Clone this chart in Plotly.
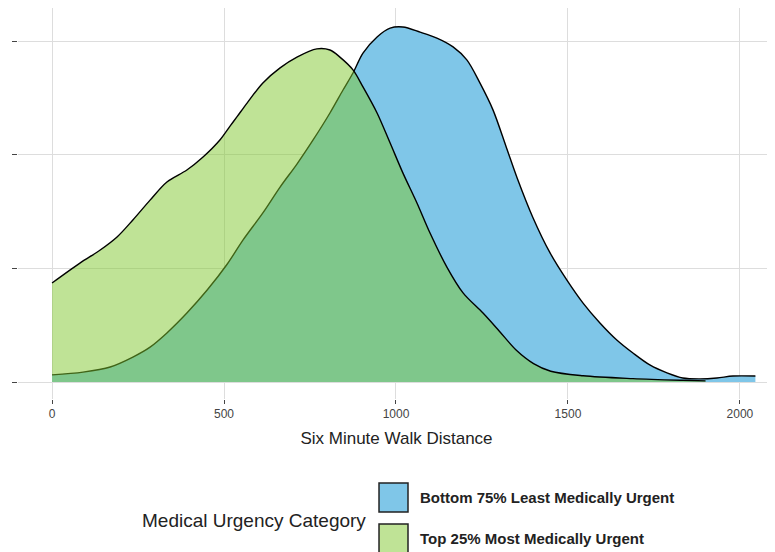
import plotly.graph_objects as go

# Density estimates (x = six minute walk distance, y = density)
bottom75_x = [0, 90, 169, 235, 285, 334, 392, 451, 509, 555, 613, 663, 712, 759, 808, 846,
              875, 904, 945, 983, 1020, 1070, 1119, 1166, 1206, 1244, 1282, 1320, 1352, 1398,
              1448, 1497, 1544, 1593, 1642, 1689, 1738, 1788, 1834, 1884, 1933, 1980, 2045]
bottom75_y = [0.000025, 0.000035, 0.000053, 0.000088, 0.000123, 0.000173, 0.000243, 0.000324,
              0.000415, 0.000500, 0.000596, 0.000687, 0.000768, 0.000853, 0.000948, 0.001029,
              0.001089, 0.001159, 0.001216, 0.001247, 0.001251, 0.001233, 0.001212, 0.001181,
              0.001135, 0.001054, 0.000959, 0.000830, 0.000720, 0.000580, 0.000455, 0.000359,
              0.000278, 0.000208, 0.000148, 0.000102, 0.000060, 0.000032, 0.000014, 0.000011,
              0.000014, 0.000021, 0.000021]

top25_x = [0, 81, 140, 189, 235, 285, 334, 392, 439, 488, 517, 538, 567, 613, 663, 712, 770,
           808, 837, 875, 904, 945, 983, 1020, 1061, 1099, 1148, 1195, 1253, 1300, 1350, 1400,
           1450, 1544, 1689, 1834, 1900]
top25_y = [0.000349, 0.000419, 0.000465, 0.000511, 0.000571, 0.000641, 0.000705, 0.000747,
           0.000793, 0.000853, 0.000901, 0.000935, 0.000983, 0.001054, 0.001107, 0.001145,
           0.001174, 0.001170, 0.001145, 0.001100, 0.001040, 0.000948, 0.000842, 0.000737,
           0.000631, 0.000525, 0.000405, 0.000314, 0.000243, 0.000180, 0.000112, 0.000065,
           0.000038, 0.000022, 0.000012, 0.000006, 0.000004]

x_ticks = [0, 500, 1000, 1500, 2000]
y_ticks = [0, 0.0004, 0.0008, 0.0012]

legend_title = "Medical Urgency Category"
names = ["Bottom 75% Least Medically Urgent", "Top 25% Most Medically Urgent"]
fills = ["rgb(127,198,232)", "rgba(127,199,45,0.5)"]

FONT = "Liberation Sans, Arial, sans-serif"

fig = go.Figure()
for xs, ys, name, fc in [(bottom75_x, bottom75_y, names[0], fills[0]),
                         (top25_x, top25_y, names[1], fills[1])]:
    fig.add_trace(go.Scatter(
        x=xs, y=ys, name=name, mode="lines", fill="tozeroy", fillcolor=fc,
        line=dict(color="black", width=1.4, shape="spline", smoothing=0.9),
        showlegend=False, hoverinfo="x+y+name"))

# Manual legend (swatches + labels)
box_x0, box_x1 = 0.4769, 0.5152
box_rows = [(-0.2148, -0.2890), (-0.3197, -0.3939)]
text_y = [-0.2519, -0.3568]
legend_fill = ["rgb(127,198,232)", "rgb(191,227,150)"]
for (y0, y1), fc, ty, name in zip(box_rows, legend_fill, text_y, names):
    fig.add_shape(type="rect", xref="paper", yref="paper", x0=box_x0, x1=box_x1,
                  y0=y1, y1=y0, fillcolor=fc, line=dict(color="#222222", width=1.5))
    fig.add_annotation(xref="paper", yref="paper", x=0.5284, y=ty, text=name,
                       showarrow=False, xanchor="left", yanchor="middle",
                       font=dict(family=FONT, size=15, color="#222222", weight="bold"))
fig.add_annotation(xref="paper", yref="paper", x=0.4624, y=-0.3095, text=legend_title,
                   showarrow=False, xanchor="right", yanchor="middle",
                   font=dict(family=FONT, size=19, color="#222222"))

fig.update_layout(
    width=775, height=552,
    margin=dict(l=10, r=8, t=0, b=161),
    paper_bgcolor="white", plot_bgcolor="white",
    font=dict(family=FONT, color="#222222"),
    showlegend=False,
)
fig.update_xaxes(
    range=[-99, 2102], tickvals=x_ticks, ticktext=[str(v) for v in x_ticks],
    showgrid=True, gridcolor="#DDDDDD", gridwidth=1, zeroline=False,
    ticks="outside", ticklen=4, tickcolor="#444444", tickwidth=1,
    tickfont=dict(family="Liberation Sans Narrow, Liberation Sans, Arial, sans-serif",
                  size=12, color="#444444"),
    title=dict(text="Six Minute Walk Distance", font=dict(family=FONT, size=17, color="#222222"),
               standoff=11),
    showline=False, automargin=False,
)
fig.update_yaxes(
    range=[-0.0000599, 0.001318], tickvals=y_ticks, showticklabels=False,
    showgrid=True, gridcolor="#DDDDDD", gridwidth=1, zeroline=False,
    ticks="outside", ticklen=5, tickcolor="#444444", tickwidth=1,
    showline=False, automargin=False,
)

fig.write_html("out.html")
